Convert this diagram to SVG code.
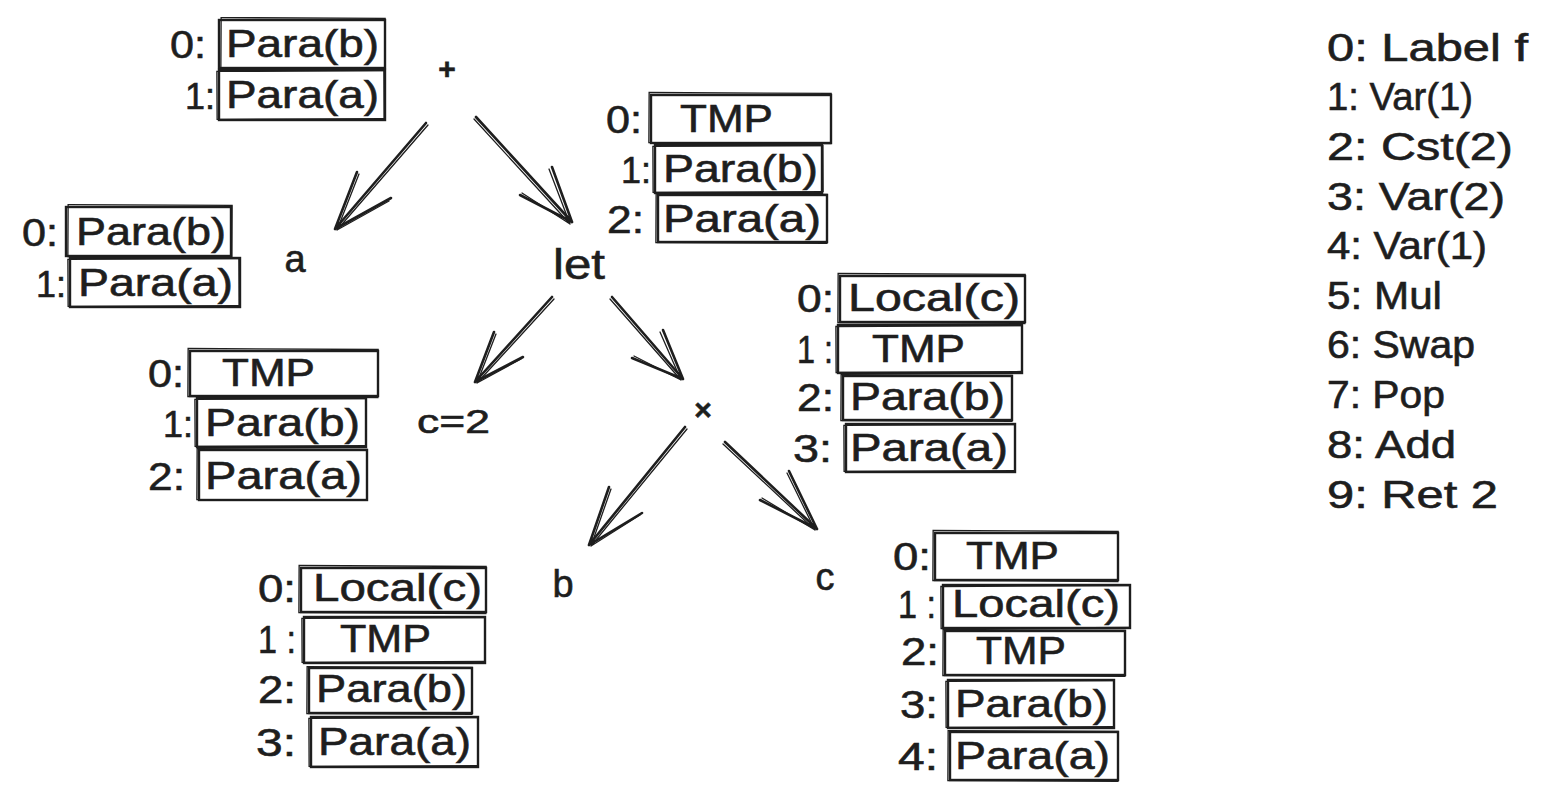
<svg xmlns="http://www.w3.org/2000/svg" width="1548" height="803" viewBox="0 0 1548 803">
<style>
  text { font-family: "Liberation Sans", Arial, sans-serif; fill: #1e1e1e; stroke: #1e1e1e; stroke-width: 0.6; }
  .t { font-size: 38px; }
  .one { font-size: 36px; }
  .n { font-size: 38px; }
  .b1 { fill: none; stroke: #1e1e1e; stroke-width: 2.4; }
  .b2 { fill: none; stroke: #1e1e1e; stroke-width: 1.3; }
  .ar { fill: none; stroke: #1e1e1e; stroke-width: 2.6; stroke-linecap: round; stroke-linejoin: round; }
  .ar2 { fill: none; stroke: #1e1e1e; stroke-width: 1.3; stroke-linecap: round; stroke-linejoin: round; }
</style>
<rect x="0" y="0" width="1548" height="803" fill="#ffffff"/>

<!-- Stack at + -->
<g id="stack-plus">
  <rect class="b1" x="219" y="20" width="166" height="48"/><rect class="b2" x="221" y="18" width="164" height="50" transform="rotate(0.3 300 44)"/>
  <rect class="b1" x="219" y="70" width="166" height="50"/><rect class="b2" x="217" y="71" width="167" height="48" transform="rotate(-0.3 300 95)"/>
  <text class="t" x="170" y="58" textLength="36" lengthAdjust="spacingAndGlyphs">0:</text>
  <text class="t" x="226" y="57" textLength="153" lengthAdjust="spacingAndGlyphs">Para(b)</text>
  <text class="one" x="185" y="109">1:</text>
  <text class="t" x="226" y="108" textLength="153" lengthAdjust="spacingAndGlyphs">Para(a)</text>
</g>

<g id="node-plus"><text x="447" y="79" font-size="30" font-weight="bold" text-anchor="middle">+</text></g>

<!-- Stack at a -->
<g id="stack-a">
  <rect class="b1" x="66" y="207" width="165" height="49"/><rect class="b2" x="68" y="205" width="164" height="52" transform="rotate(0.3 150 230)"/>
  <rect class="b1" x="70" y="258" width="170" height="49"/><rect class="b2" x="68" y="259" width="171" height="47" transform="rotate(-0.3 150 282)"/>
  <text class="t" x="22" y="246" textLength="36" lengthAdjust="spacingAndGlyphs">0:</text>
  <text class="t" x="76" y="245" textLength="150" lengthAdjust="spacingAndGlyphs">Para(b)</text>
  <text class="one" x="36" y="297">1:</text>
  <text class="t" x="78" y="296" textLength="155" lengthAdjust="spacingAndGlyphs">Para(a)</text>
</g>

<g id="node-a"><text class="n" x="295" y="272" text-anchor="middle">a</text></g>

<!-- Stack at let -->
<g id="stack-let">
  <rect class="b1" x="651" y="95" width="180" height="48"/><rect class="b2" x="649" y="93" width="182" height="50" transform="rotate(0.3 740 119)"/>
  <rect class="b1" x="655" y="145" width="167" height="48"/><rect class="b2" x="653" y="146" width="170" height="46" transform="rotate(-0.3 740 169)"/>
  <rect class="b1" x="658" y="195" width="169" height="47"/><rect class="b2" x="656" y="194" width="171" height="49" transform="rotate(0.3 740 219)"/>
  <text class="t" x="606" y="133" textLength="36" lengthAdjust="spacingAndGlyphs">0:</text>
  <text class="t" x="680" y="132" textLength="93" lengthAdjust="spacingAndGlyphs">TMP</text>
  <text class="one" x="621" y="183">1:</text>
  <text class="t" x="663" y="182" textLength="155" lengthAdjust="spacingAndGlyphs">Para(b)</text>
  <text class="t" x="607" y="233" textLength="37" lengthAdjust="spacingAndGlyphs">2:</text>
  <text class="t" x="663" y="232" textLength="158" lengthAdjust="spacingAndGlyphs">Para(a)</text>
</g>

<g id="node-let"><text x="579" y="279" font-size="42" text-anchor="middle" textLength="52" lengthAdjust="spacingAndGlyphs">let</text></g>

<!-- Stack at c=2 -->
<g id="stack-c2">
  <rect class="b1" x="190" y="351" width="188" height="45"/><rect class="b2" x="188" y="349" width="190" height="48" transform="rotate(0.3 280 374)"/>
  <rect class="b1" x="197" y="398" width="169" height="49"/><rect class="b2" x="195" y="399" width="171" height="47" transform="rotate(-0.3 280 422)"/>
  <rect class="b1" x="199" y="450" width="168" height="50"/><rect class="b2" x="197" y="449" width="170" height="51" transform="rotate(0.3 280 475)"/>
  <text class="t" x="148" y="387" textLength="36" lengthAdjust="spacingAndGlyphs">0:</text>
  <text class="t" x="222" y="386" textLength="93" lengthAdjust="spacingAndGlyphs">TMP</text>
  <text class="one" x="163" y="437">1:</text>
  <text class="t" x="205" y="436" textLength="155" lengthAdjust="spacingAndGlyphs">Para(b)</text>
  <text class="t" x="148" y="490" textLength="37" lengthAdjust="spacingAndGlyphs">2:</text>
  <text class="t" x="205" y="489" textLength="157" lengthAdjust="spacingAndGlyphs">Para(a)</text>
</g>

<g id="node-c2"><text x="417" y="433" font-size="34" textLength="73" lengthAdjust="spacingAndGlyphs">c=2</text></g>

<!-- Stack at x -->
<g id="stack-mul">
  <rect class="b1" x="840" y="276" width="185" height="46"/><rect class="b2" x="838" y="274" width="187" height="49" transform="rotate(0.3 930 299)"/>
  <rect class="b1" x="838" y="325" width="184" height="48"/><rect class="b2" x="836" y="326" width="186" height="46" transform="rotate(-0.3 930 349)"/>
  <rect class="b1" x="843" y="376" width="169" height="44"/><rect class="b2" x="841" y="375" width="171" height="46" transform="rotate(0.3 930 398)"/>
  <rect class="b1" x="846" y="424" width="169" height="48"/><rect class="b2" x="844" y="425" width="171" height="46" transform="rotate(-0.3 930 448)"/>
  <text class="t" x="797" y="312" textLength="37" lengthAdjust="spacingAndGlyphs">0:</text>
  <text class="t" x="848" y="311" textLength="172" lengthAdjust="spacingAndGlyphs">Local(c)</text>
  <text class="t" x="797" y="363" textLength="36" lengthAdjust="spacingAndGlyphs">1 :</text>
  <text class="t" x="872" y="362" textLength="93" lengthAdjust="spacingAndGlyphs">TMP</text>
  <text class="t" x="797" y="411" textLength="37" lengthAdjust="spacingAndGlyphs">2:</text>
  <text class="t" x="850" y="410" textLength="155" lengthAdjust="spacingAndGlyphs">Para(b)</text>
  <text class="t" x="793" y="462" textLength="39" lengthAdjust="spacingAndGlyphs">3:</text>
  <text class="t" x="850" y="461" textLength="158" lengthAdjust="spacingAndGlyphs">Para(a)</text>
</g>

<g id="node-mul"><text x="703" y="420" font-size="30" font-weight="bold" text-anchor="middle">×</text></g>

<!-- Stack at b -->
<g id="stack-b">
  <rect class="b1" x="301" y="568" width="185" height="44"/><rect class="b2" x="299" y="566" width="187" height="47" transform="rotate(0.3 390 590)"/>
  <rect class="b1" x="304" y="617" width="181" height="46"/><rect class="b2" x="302" y="618" width="183" height="44" transform="rotate(-0.3 390 640)"/>
  <rect class="b1" x="309" y="668" width="163" height="45"/><rect class="b2" x="307" y="667" width="165" height="47" transform="rotate(0.3 390 690)"/>
  <rect class="b1" x="311" y="717" width="167" height="50"/><rect class="b2" x="309" y="718" width="169" height="48" transform="rotate(-0.3 390 742)"/>
  <text class="t" x="258" y="602" textLength="38" lengthAdjust="spacingAndGlyphs">0:</text>
  <text class="t" x="313" y="601" textLength="169" lengthAdjust="spacingAndGlyphs">Local(c)</text>
  <text class="t" x="258" y="653" textLength="38" lengthAdjust="spacingAndGlyphs">1 :</text>
  <text class="t" x="340" y="652" textLength="91" lengthAdjust="spacingAndGlyphs">TMP</text>
  <text class="t" x="258" y="703" textLength="38" lengthAdjust="spacingAndGlyphs">2:</text>
  <text class="t" x="316" y="702" textLength="151" lengthAdjust="spacingAndGlyphs">Para(b)</text>
  <text class="t" x="256" y="756" textLength="40" lengthAdjust="spacingAndGlyphs">3:</text>
  <text class="t" x="318" y="755" textLength="153" lengthAdjust="spacingAndGlyphs">Para(a)</text>
</g>

<g id="node-b"><text class="n" x="563" y="597" text-anchor="middle">b</text></g>

<!-- Stack at c -->
<g id="stack-c">
  <rect class="b1" x="935" y="533" width="183" height="47"/><rect class="b2" x="933" y="531" width="185" height="50" transform="rotate(0.3 1025 556)"/>
  <rect class="b1" x="943" y="585" width="187" height="43"/><rect class="b2" x="941" y="586" width="189" height="42" transform="rotate(-0.3 1035 606)"/>
  <rect class="b1" x="945" y="631" width="180" height="44"/><rect class="b2" x="943" y="630" width="182" height="46" transform="rotate(0.3 1035 653)"/>
  <rect class="b1" x="948" y="680" width="166" height="48"/><rect class="b2" x="946" y="681" width="168" height="46" transform="rotate(-0.3 1030 704)"/>
  <rect class="b1" x="950" y="732" width="168" height="48"/><rect class="b2" x="948" y="731" width="170" height="50" transform="rotate(0.3 1030 756)"/>
  <text class="t" x="893" y="570" textLength="38" lengthAdjust="spacingAndGlyphs">0:</text>
  <text class="t" x="966" y="569" textLength="93" lengthAdjust="spacingAndGlyphs">TMP</text>
  <text class="t" x="898" y="618" textLength="38" lengthAdjust="spacingAndGlyphs">1 :</text>
  <text class="t" x="952" y="617" textLength="168" lengthAdjust="spacingAndGlyphs">Local(c)</text>
  <text class="t" x="901" y="665" textLength="38" lengthAdjust="spacingAndGlyphs">2:</text>
  <text class="t" x="976" y="664" textLength="90" lengthAdjust="spacingAndGlyphs">TMP</text>
  <text class="t" x="900" y="718" textLength="38" lengthAdjust="spacingAndGlyphs">3:</text>
  <text class="t" x="955" y="717" textLength="153" lengthAdjust="spacingAndGlyphs">Para(b)</text>
  <text class="t" x="898" y="770" textLength="40" lengthAdjust="spacingAndGlyphs">4:</text>
  <text class="t" x="955" y="769" textLength="155" lengthAdjust="spacingAndGlyphs">Para(a)</text>
</g>

<g id="node-c"><text class="n" x="825" y="590" text-anchor="middle">c</text></g>

<!-- Instruction list -->
<g id="code-list">
  <text class="t" x="1327" y="61" textLength="201" lengthAdjust="spacingAndGlyphs">0: Label f</text>
  <text class="t" x="1327" y="110" textLength="146" lengthAdjust="spacingAndGlyphs">1: Var(1)</text>
  <text class="t" x="1327" y="160" textLength="186" lengthAdjust="spacingAndGlyphs">2: Cst(2)</text>
  <text class="t" x="1327" y="210" textLength="178" lengthAdjust="spacingAndGlyphs">3: Var(2)</text>
  <text class="t" x="1327" y="259" textLength="160" lengthAdjust="spacingAndGlyphs">4: Var(1)</text>
  <text class="t" x="1327" y="309" textLength="115" lengthAdjust="spacingAndGlyphs">5: Mul</text>
  <text class="t" x="1327" y="358" textLength="148" lengthAdjust="spacingAndGlyphs">6: Swap</text>
  <text class="t" x="1327" y="408" textLength="118" lengthAdjust="spacingAndGlyphs">7: Pop</text>
  <text class="t" x="1327" y="458" textLength="129" lengthAdjust="spacingAndGlyphs">8: Add</text>
  <text class="t" x="1327" y="508" textLength="171" lengthAdjust="spacingAndGlyphs">9: Ret 2</text>
</g>

<!-- Connectors -->
<g id="connectors">
  <!-- + -> a -->
  <path class="ar" d="M426,123 L335,229 M357,172 L335,229 L391,198"/>
  <path class="ar2" d="M428,125 L337,230 M359,174 L337,230 L389,201"/>
  <!-- + -> let -->
  <path class="ar" d="M476,117 L572,222 M552,167 L572,222 L520,195"/>
  <path class="ar2" d="M474,119 L570,224 M549,169 L570,224 L522,193"/>
  <!-- let -> c=2 -->
  <path class="ar" d="M552,297 L475,382 M494,332 L475,382 L523,357"/>
  <path class="ar2" d="M554,299 L477,383 M496,334 L477,383 L521,359"/>
  <!-- let -> x -->
  <path class="ar" d="M612,297 L683,379 M663,330 L683,379 L632,358"/>
  <path class="ar2" d="M610,299 L681,380 M660,332 L681,380 L634,356"/>
  <!-- x -> b -->
  <path class="ar" d="M685,427 L589,545 M609,487 L589,545 L642,513"/>
  <path class="ar2" d="M687,429 L591,546 M611,489 L591,546 L640,515"/>
  <!-- x -> c -->
  <path class="ar" d="M725,442 L817,529 M789,471 L817,529 L760,500"/>
  <path class="ar2" d="M723,444 L815,530 M787,473 L815,530 L762,498"/>
</g>
</svg>
